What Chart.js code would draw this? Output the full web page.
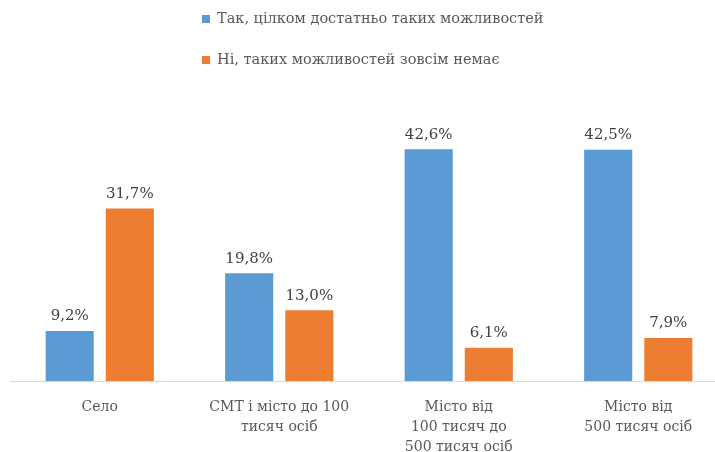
<!DOCTYPE html>
<html>
<head>
<meta charset="utf-8">
<script src="https://cdn.jsdelivr.net/npm/chart.js@4.4.1/dist/chart.umd.min.js"></script>
<style>
    html, body { margin: 0; padding: 0; background: #fff; overflow: hidden; }
    #wrap { position: relative; width: 728px; height: 452px; }
</style>
</head>
<body>
<div id="wrap"><canvas id="grafica"></canvas></div>
<script>
    // Категорії населених пунктів
    var categorias = [
        'Село',
        ['СМТ і місто до 100', 'тисяч осіб'],
        ['Місто від', '100 тисяч до', '500 тисяч осіб'],
        ['Місто від', '500 тисяч осіб']
    ];
    var serieNombres = ['Так, цілком достатньо таких можливостей', 'Ні, таких можливостей зовсім немає'];
    var serieSi = [9.2, 19.8, 42.6, 42.5];
    var serieNo = [31.7, 13.0, 6.1, 7.9];

    var fuente = '"DejaVu Serif", "Liberation Serif", serif';

    function formato(v) {
        return v.toFixed(1).replace('.', ',') + '%';
    }

    // Etiquetas encima de cada barra
    var etiquetasPlugin = {
        id: 'etiquetas',
        afterDatasetsDraw: function (chart) {
            var ctx = chart.ctx;
            ctx.save();
            ctx.font = '15px ' + fuente;
            ctx.fillStyle = '#404040';
            ctx.textAlign = 'center';
            ctx.textBaseline = 'bottom';
            chart.data.datasets.forEach(function (ds, i) {
                chart.getDatasetMeta(i).data.forEach(function (bar, j) {
                    ctx.fillText(formato(ds.data[j]), bar.x, bar.y - 7);
                });
            });
            ctx.restore();
        }
    };

    // Leyenda vertical arriba
    var leyendaPlugin = {
        id: 'leyenda',
        afterDraw: function (chart) {
            var ctx = chart.ctx;
            ctx.save();
            ctx.font = '14.5px ' + fuente;
            ctx.textBaseline = 'middle';
            chart.data.datasets.forEach(function (ds, i) {
                var y = 19 + i * 41;
                ctx.fillStyle = ds.backgroundColor;
                ctx.fillRect(202, y - 4, 8, 8);
                ctx.fillStyle = '#595959';
                ctx.fillText(ds.label, 217, y);
            });
            ctx.restore();
        }
    };

    var config = {
        type: 'bar',
        data: {
            labels: categorias,
            datasets: [{
                label: serieNombres[0],
                data: serieSi,
                backgroundColor: '#5B9BD5',
                categoryPercentage: 0.67,
                barPercentage: 0.8
            }, {
                label: serieNombres[1],
                data: serieNo,
                backgroundColor: '#ED7D31',
                categoryPercentage: 0.67,
                barPercentage: 0.8
            }]
        },
        options: {
            responsive: true,
            maintainAspectRatio: false,
            animation: false,
            layout: { padding: { top: 109, left: 10, right: 0, bottom: 0 } },
            plugins: {
                legend: { display: false },
                tooltip: { enabled: false }
            },
            scales: {
                x: {
                    grid: { display: false },
                    border: { color: '#d9d9d9', width: 1 },
                    ticks: {
                        color: '#595959',
                        font: { family: fuente, size: 14, lineHeight: 1.43 },
                        padding: 8,
                        maxRotation: 0
                    },
                    afterFit: function (scale) {
                        scale.height = 71;
                    }
                },
                y: {
                    display: false,
                    min: 0,
                    max: 50
                }
            }
        },
        plugins: [etiquetasPlugin, leyendaPlugin]
    };

    new Chart(document.getElementById('grafica'), config);
</script>
</body>
</html>
